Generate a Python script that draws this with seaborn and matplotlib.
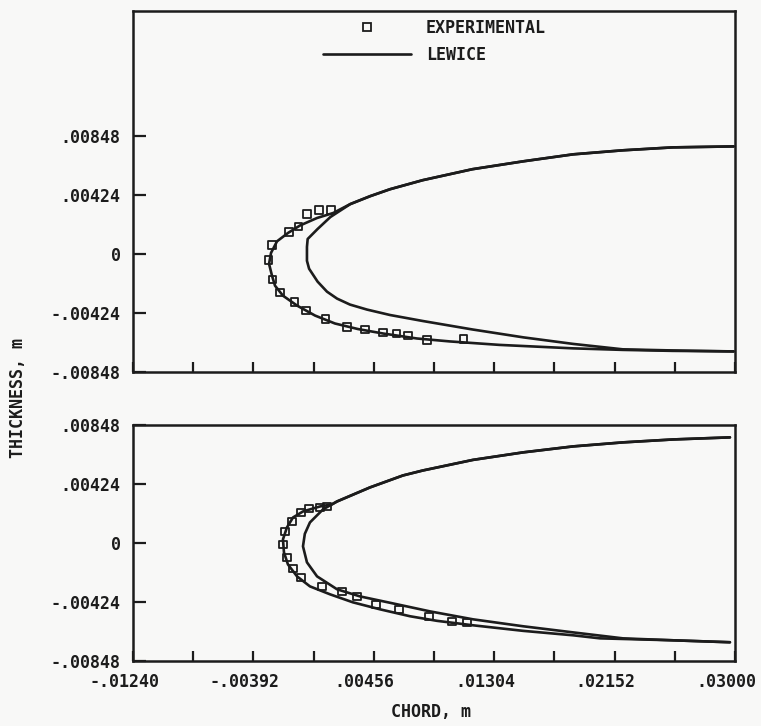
import numpy as np
import pandas as pd
import matplotlib
matplotlib.use("Agg")
import matplotlib.pyplot as plt
import matplotlib.transforms as mtransforms
from matplotlib.lines import Line2D
import seaborn as sns

# ---------------- data (metres) ----------------
# Top panel: clean airfoil contour (upper TE -> LE -> lower TE)
top_airfoil_x = [0.0299, 0.0256, 0.0221, 0.0186, 0.0151, 0.0115, 0.0080, 0.0057, 0.0043,
                 0.0029, 0.0015, 0.0006, -0.0001, -0.00015, -0.00015, 0.0000, 0.0006, 0.00126,
                 0.00197, 0.00288, 0.00408, 0.0057, 0.0080, 0.0115, 0.0151,
                 0.0186, 0.0221, 0.0256, 0.0299]
top_airfoil_y = [0.00773, 0.00766, 0.00745, 0.00716, 0.00666, 0.00609, 0.00530, 0.00465, 0.00415,
                 0.00358, 0.00265, 0.00179, 0.00107, 0.00050, -0.00050, -0.00107, -0.00200, -0.00272,
                 -0.00322, -0.00365, -0.00401, -0.00440, -0.00483, -0.00544, -0.00601,
                 -0.00648, -0.00687, -0.00695, -0.00702]

# Top panel: LEWICE ice shape
top_lewice_x = [0.0299, 0.0256, 0.0221, 0.0186, 0.0151, 0.0115, 0.0080, 0.0057, 0.0043,
                0.0029, 0.0017, 0.00056, -0.00064, -0.00149, -0.00226, -0.00268, -0.00282,
                -0.00261, -0.00240, -0.00184, -0.00085, 0.00042, 0.00182, 0.00344, 0.0052,
                0.0076, 0.0099, 0.0134, 0.0186, 0.0221, 0.0256, 0.0299]
top_lewice_y = [0.00773, 0.00766, 0.00745, 0.00716, 0.00666, 0.00609, 0.00530, 0.00465, 0.00415,
                0.00358, 0.00294, 0.00258, 0.00204, 0.00150, 0.00090, 0.00007, -0.00072,
                -0.00158, -0.00229, -0.00301, -0.00372, -0.00444, -0.00501, -0.00541, -0.00573,
                -0.00609, -0.00630, -0.00655, -0.00680, -0.00691, -0.00698, -0.00702]

# Top panel: experimental ice shape
top_exp_x = [-0.00015, 0.00070, 0.00154, -0.00075, -0.00142, -0.00261, -0.00286, -0.00258,
             -0.00205, -0.00103, -0.00022, 0.00116, 0.00267, 0.00394, 0.00520, 0.00616,
             0.00697, 0.00830, 0.01087]
top_exp_y = [0.00286, 0.00315, 0.00315, 0.00197, 0.00158, 0.00064, -0.00043, -0.00186,
             -0.00276, -0.00347, -0.00408, -0.00469, -0.00526, -0.00544, -0.00566, -0.00573,
             -0.00587, -0.00619, -0.00612]

# Bottom panel: clean airfoil contour
bot_airfoil_x = [0.02964, 0.02563, 0.02211, 0.01859, 0.01507, 0.01154, 0.00802, 0.00661,
                 0.00429, 0.00197, 0.00098, 0.00006, -0.00030, -0.00043, -0.00015, 0.00056,
                 0.00197, 0.00358, 0.00570, 0.00852, 0.01154, 0.01507, 0.01859, 0.02211,
                 0.02563, 0.02964]
bot_airfoil_y = [0.00759, 0.00744, 0.00723, 0.00694, 0.00651, 0.00597, 0.00521, 0.00485,
                 0.00399, 0.00298, 0.00241, 0.00147, 0.00065, -0.00025, -0.00140, -0.00241,
                 -0.00334, -0.00385, -0.00431, -0.00493, -0.00550, -0.00600, -0.00644, -0.00687,
                 -0.00701, -0.00715]

# Bottom panel: LEWICE ice shape
bot_lewice_x = [0.02964, 0.02563, 0.02211, 0.01859, 0.01507, 0.01154, 0.00802, 0.00661,
                0.00429, 0.00197, 0.00161, 0.00077, -0.00043, -0.00113, -0.00156, -0.00184,
                -0.00177, -0.00149, -0.00085, 0.00006, 0.00147, 0.00309, 0.00499, 0.00711,
                0.00901, 0.01154, 0.01507, 0.01859, 0.02049, 0.02563, 0.02964]
bot_lewice_y = [0.00759, 0.00744, 0.00723, 0.00694, 0.00651, 0.00597, 0.00521, 0.00485,
                0.00399, 0.00298, 0.00277, 0.00262, 0.00226, 0.00183, 0.00111, 0.00025,
                -0.00068, -0.00155, -0.00241, -0.00313, -0.00370, -0.00428, -0.00478, -0.00528,
                -0.00561, -0.00593, -0.00633, -0.00665, -0.00687, -0.00701, -0.00715]

# Bottom panel: experimental ice shape
bot_exp_x = [0.00126, 0.00077, -0.00001, -0.00057, -0.00120, -0.00170, -0.00184, -0.00156,
             -0.00113, -0.00057, 0.00091, 0.00232, 0.00337, 0.00471, 0.00633, 0.00844,
             0.01006, 0.01112]
bot_exp_y = [0.00262, 0.00255, 0.00248, 0.00219, 0.00155, 0.00083, -0.00011, -0.00104,
             -0.00183, -0.00248, -0.00313, -0.00349, -0.00385, -0.00442, -0.00478, -0.00528,
             -0.00564, -0.00572]

x_ticks_major = [-0.01240, -0.00392, 0.00456, 0.01304, 0.02152, 0.03000]
x_tick_labels = ["-.01240", "-.00392", ".00456", ".01304", ".02152", ".03000"]
x_ticks_minor = [-0.00816, 0.00032, 0.00880, 0.01728, 0.02576]
y_ticks = [-0.00848, -0.00424, 0.0, 0.00424, 0.00848]
y_tick_labels = ["-.00848", "-.00424", "0", ".00424", ".00848"]

# ---------------- style ----------------
sns.set_theme(style="white")
plt.rcParams["font.family"] = ["DejaVu Sans Mono", "DejaVu Sans"]
plt.rcParams["font.weight"] = "bold"
INK = "#1c1c1c"
BG = "#f8f8f7"
FS = 12

fig = plt.figure(figsize=(7.61, 7.26), dpi=100, facecolor=BG)
ax_top = fig.add_axes([0.1748, 0.4880, 0.7911, 0.4968], facecolor=BG)
ax_bot = fig.add_axes([0.1748, 0.0899, 0.7911, 0.3247], facecolor=BG)

line_kw = dict(color=INK, linewidth=1.9, sort=False, estimator=None, legend=False)

def draw(ax, ax_x, ax_y, lw_x, lw_y, ex_x, ex_y):
    sns.lineplot(data=pd.DataFrame({"x": ax_x, "y": ax_y}), x="x", y="y", ax=ax, **line_kw)
    sns.lineplot(data=pd.DataFrame({"x": lw_x, "y": lw_y}), x="x", y="y", ax=ax, **line_kw)
    sns.scatterplot(data=pd.DataFrame({"x": ex_x, "y": ex_y}), x="x", y="y", ax=ax,
                    marker="s", s=28, legend=False, zorder=5)
    coll = ax.collections[-1]
    coll.set_facecolor("none")
    coll.set_edgecolor(INK)
    coll.set_linewidth(1.3)
    ax.set_xlabel("")
    ax.set_ylabel("")
    ax.set_xlim(-0.0124, 0.0300)
    for sp in ax.spines.values():
        sp.set_visible(True)
        sp.set_color(INK)
        sp.set_linewidth(1.8)
    ax.set_yticks(y_ticks)
    ax.set_yticklabels(y_tick_labels)
    ax.tick_params(axis="y", direction="in", length=9, width=1.6, color=INK,
                   labelsize=FS, labelcolor=INK, pad=9, left=True, right=False)
    ax.set_xticks(x_ticks_major)
    ax.set_xticks(x_ticks_minor, minor=True)
    ax.tick_params(axis="x", which="both", direction="in", length=7, width=1.6, color=INK,
                   bottom=True, top=False, labelsize=FS, labelcolor=INK, pad=9)
    for lab in ax.get_yticklabels():
        lab.set_fontweight("bold")

draw(ax_top, top_airfoil_x, top_airfoil_y, top_lewice_x, top_lewice_y, top_exp_x, top_exp_y)
draw(ax_bot, bot_airfoil_x, bot_airfoil_y, bot_lewice_x, bot_lewice_y, bot_exp_x, bot_exp_y)

ax_top.set_ylim(-0.00848, 0.01747)
ax_bot.set_ylim(-0.00848, 0.00848)
ax_top.tick_params(axis="x", labelbottom=False)
ax_bot.set_xticklabels(x_tick_labels)
offset = mtransforms.ScaledTranslation(-9 / 100, 0, fig.dpi_scale_trans)
for lab in ax_bot.get_xticklabels():
    lab.set_fontweight("bold")
    lab.set_transform(lab.get_transform() + offset)

# legend
h_exp = Line2D([], [], linestyle="", marker="s", markersize=5.4, markerfacecolor="none",
               markeredgecolor=INK, markeredgewidth=1.3)
h_lew = Line2D([], [], color=INK, linewidth=1.9)
leg = ax_top.legend([h_exp, h_lew], ["EXPERIMENTAL", "LEWICE"], loc="upper left",
                    bbox_to_anchor=(0.315, 0.978), frameon=False, fontsize=FS,
                    handlelength=5.3, handletextpad=0.9, labelspacing=0.55,
                    borderpad=0, borderaxespad=0)
for t in leg.get_texts():
    t.set_color(INK)
    t.set_fontweight("bold")

fig.text(0.567, 0.019, "CHORD, m", ha="center", va="center", fontsize=FS,
         fontweight="bold", color=INK)
fig.text(0.024, 0.452, "THICKNESS, m", ha="center", va="center", rotation=90,
         fontsize=FS, fontweight="bold", color=INK)

fig.savefig("out.png", dpi=100, facecolor=BG)
